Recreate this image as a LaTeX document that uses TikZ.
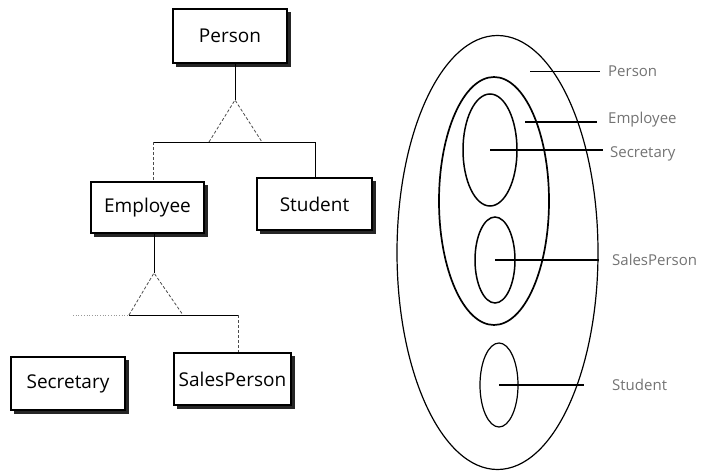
\documentclass[tikz,border=0pt]{standalone}
\usepackage{fontspec}
\setmainfont{Open Sans}
\usetikzlibrary{shapes.geometric,backgrounds}
\tikzset{
  classbox/.style={draw=black, line width=1.1pt, fill=white, rectangle,
    inner sep=0pt, font=\fontsize{19}{22}\selectfont},
  boxshadow/.style={fill=black!85},
  setell/.style={draw=black, ellipse, line width=1.2pt, inner sep=0pt},
  conn/.style={draw=black, line width=0.8pt},
  dotconn/.style={draw=black!70, line width=0.8pt, densely dashed},
  faint/.style={draw=black!40, line width=0.7pt, dotted},
  leader/.style={draw=black, line width=1.1pt},
  setlabel/.style={anchor=west, inner sep=0pt, text=black!55, font=\fontsize{15}{17}\selectfont}
}
\begin{document}
\begin{tikzpicture}[x=1pt,y=-1pt]
\useasboundingbox (0,0) rectangle (717,476);
% ---- left: hierarchy ----
\node[classbox, minimum width=114pt, minimum height=54pt] (person) at (230,36) {Person};
\node[classbox, minimum width=113pt, minimum height=51pt] (employee) at (147.5,207.5) {Employee};
\node[classbox, minimum width=115pt, minimum height=52pt] (student) at (314.5,204) {Student};
\node[classbox, minimum width=114pt, minimum height=53pt] (secretary) at (68,383.5) {Secretary};
\node[classbox, minimum width=117pt, minimum height=52pt] (salesperson) at (232.5,379) {SalesPerson};
\begin{scope}[on background layer]
  \foreach \b in {person,employee,student,secretary,salesperson}{
    \fill[boxshadow] ([shift={(3.5,3.5)}]\b.north west) rectangle ([shift={(3.5,3.5)}]\b.south east);
  }
\end{scope}

\coordinate (apexA) at (235,100);
\coordinate (baseAL) at (209,142);
\coordinate (baseAR) at (262,142);
\coordinate (barAL) at (153,142);
\coordinate (barAR) at (315,142);
\draw[conn] (person.south -| apexA) -- (apexA);
\draw[dotconn] (baseAL) -- (apexA) -- (baseAR);
\draw[conn] (barAL) -- (barAR);
\draw[dotconn] (barAL) -- (barAL |- employee.north);
\draw[conn] (barAR) -- (barAR |- student.north);

\coordinate (apexB) at (154,273);
\coordinate (baseBL) at (129,315);
\coordinate (baseBR) at (183,315);
\coordinate (barBL) at (73,315);
\coordinate (barBR) at (238,315);
\draw[conn] (employee.south -| apexB) -- (apexB);
\draw[dotconn] (baseBL) -- (apexB) -- (baseBR);
\draw[faint] (barBL) -- (baseBL);
\draw[conn] (baseBL) -- (barBR);
\draw[dotconn] (barBR) -- (barBR |- salesperson.north);

% ---- right: sets ----
\node[setell, minimum width=201pt, minimum height=434pt] (eperson) at (497.5,252.5) {};
\node[setell, line width=1.7pt, minimum width=110pt, minimum height=248pt] (eemployee) at (494,201) {};
\node[setell, line width=1.5pt, minimum width=54pt, minimum height=112pt] (esecretary) at (490,150) {};
\node[setell, line width=1.5pt, minimum width=40pt, minimum height=86pt] (esales) at (495,260) {};
\node[setell, minimum width=38pt, minimum height=84pt] (estudent) at (499,385) {};

\node[setlabel] (lperson) at (608,71) {Person};
\node[setlabel] (lemployee) at (608,120) {Employee};
\node[setlabel] (lsecretary) at (610,154) {Secretary};
\node[setlabel] (lsales) at (612,260) {SalesPerson};
\node[setlabel] (lstudent) at (612,385) {Student};

\coordinate (sp) at (530,71);
\coordinate (spe) at (600,71);
\coordinate (se) at (525,122);
\coordinate (see) at (597,122);
\coordinate (sse) at (603,150);
\coordinate (sae) at (599,260);
\coordinate (ste) at (584,385);
\draw[conn] (sp) -- (spe);
\draw[leader] (se) -- (see);
\draw[leader] (esecretary.center) -- (sse);
\draw[leader] (esales.center) -- (sae);
\draw[leader] (estudent.center) -- (ste);
\end{tikzpicture}
\end{document}
